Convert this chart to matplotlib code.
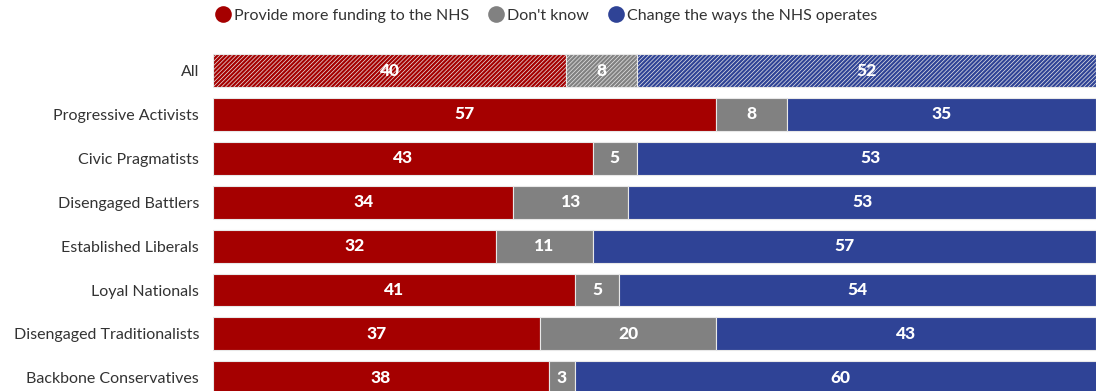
import matplotlib.pyplot as plt
from matplotlib.lines import Line2D

#
# Data
#

categories = [
    "All",
    "Progressive Activists",
    "Civic Pragmatists",
    "Disengaged Battlers",
    "Established Liberals",
    "Loyal Nationals",
    "Disengaged Traditionalists",
    "Backbone Conservatives",
]
funding = [40, 57, 43, 34, 32, 41, 37, 38]
dont_know = [8, 8, 5, 13, 11, 5, 20, 3]
change = [52, 35, 53, 53, 57, 54, 43, 60]

series_names = ["Provide more funding to the NHS", "Don't know", "Change the ways the NHS operates"]
colors = ["#a50000", "#818181", "#2f4396"]

#
# Graph
#

plt.rcParams["font.family"] = ["Lato", "DejaVu Sans"]
plt.rcParams["hatch.linewidth"] = 0.5

fig = plt.figure(figsize=(10.96, 3.91), dpi=100)
ax = fig.add_axes([213 / 1096, 0, 883 / 1096, 343 / 391])

y = list(range(len(categories)))
left = [0] * len(categories)
for values, color in zip([funding, dont_know, change], colors):
    for i, v in enumerate(values):
        hatched = i == 0
        ax.barh(
            y[i], v, left=left[i], height=0.75, color=color,
            edgecolor="#e8e8e8", linewidth=0.8, hatch="////////" if hatched else None,
        )
        ax.text(
            left[i] + v / 2, y[i], str(v), ha="center", va="center",
            color="white", fontsize=12.5, fontweight="black",
        )
        left[i] += v

ax.set_xlim(0, 100)
ax.set_ylim(7.30, -0.5125)
ax.set_yticks(y)
ax.set_yticklabels(categories, fontsize=11.5, color="#333333")
ax.tick_params(axis="y", length=0, pad=10)
ax.set_xticks([])
for spine in ax.spines.values():
    spine.set_visible(False)

handles = [
    Line2D([], [], marker="o", linestyle="none", markersize=12, markerfacecolor=c, markeredgecolor="none")
    for c in colors
]
fig.legend(
    handles, series_names, loc="center", bbox_to_anchor=(547 / 1096, 1 - 16 / 391), ncol=3,
    frameon=False, fontsize=11.5, handlelength=0.8, handletextpad=0.3, columnspacing=1.3,
    labelcolor="#333333",
)

fig.savefig("out.png", dpi=100)
